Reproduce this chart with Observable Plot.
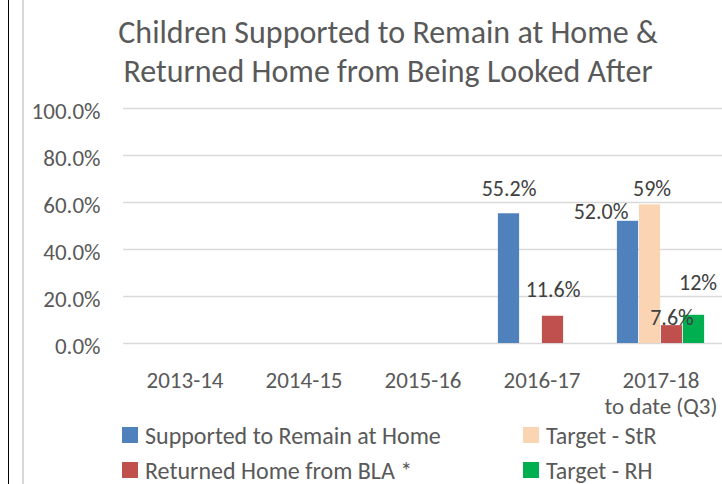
<!DOCTYPE html>
<html>
<head>
<meta charset="utf-8">
<script src="https://cdn.jsdelivr.net/npm/d3@7"></script>
<script src="https://cdn.jsdelivr.net/npm/@observablehq/plot@0.6"></script>
<style>
  html, body { margin: 0; padding: 0; background: #fff; }
  #wrap { position: relative; width: 722px; height: 484px; overflow: hidden; background: #fff;
          font-family: Carlito, Lato, sans-serif; color: #595959; }
  .vline-black { position: absolute; left: 8px; top: 0; width: 1px; height: 484px; background: #000; }
  .vline-grey { position: absolute; left: 22px; top: 0; width: 2px; height: 484px; background: #d9d9d9; }
  #title { position: absolute; left: 24px; width: 728px; top: 13px; text-align: center;
           font-size: 32px; line-height: 39px; }
  #chart { position: absolute; left: 0; top: 0; }
  .leg { position: absolute; font-size: 24px; line-height: 24px; white-space: nowrap; }
  .sw { position: absolute; width: 16px; height: 16px; }
</style>
</head>
<body>
<div id="wrap">
  <div class="vline-black"></div>
  <div class="vline-grey"></div>
  <div id="chart"></div>
  <div id="title">Children Supported to Remain at Home &amp;<br>Returned Home from Being Looked After</div>
  <div id="legend"></div>
</div>
<script>
const categories = ["2013-14", "2014-15", "2015-16", "2016-17", "2017-18\nto date (Q3)"];
const seriesNames = ["Supported to Remain at Home", "Target - StR", "Returned Home from BLA *", "Target - RH"];
const supported = [null, null, null, 55.2, 52.0];
const targetStR = [null, null, null, null, 59];
const returned  = [null, null, null, 11.6, 7.6];
const targetRH  = [null, null, null, null, 12];
const yTicks = [0, 20, 40, 60, 80, 100];

const colors = ["#4F81BD", "#FBD4B4", "#C0504D", "#00B050"];
const seriesValues = [supported, targetStR, returned, targetRH];
const seriesFormats = [d => d.toFixed(1) + "%", d => d.toFixed(0) + "%", d => d.toFixed(1) + "%", d => d.toFixed(0) + "%"];

const rows = [];
seriesValues.forEach((vals, si) => vals.forEach((v, ci) => {
  if (v != null) rows.push({series: seriesNames[si], si, cat: categories[ci], value: v});
}));

const W = 722, ML = 123, MR = 0;
const bandW = (W - ML - MR) / categories.length;
const barW = 22;
const groupOff = (bandW - barW * 4) / 2;

const barMarks = seriesNames.map((s, i) => Plot.barY(rows.filter(r => r.si === i), {
  x: "cat", y: "value", fill: colors[i],
  insetLeft: groupOff + barW * i,
  insetRight: bandW - groupOff - barW * (i + 1)
}));

// per-label offsets (Excel placed labels manually)
function label(si, ci, dx, dy) {
  const r = rows.filter(d => d.si === si && d.cat === categories[ci]);
  const centre = -barW * 2 + barW / 2 + barW * si;
  return Plot.text(r, {x: "cat", y: "value", text: d => seriesFormats[si](d.value),
    dx: centre + dx, dy, fontSize: 22, fill: "#404040"});
}

const chart = Plot.plot({
  width: W, height: 430,
  marginLeft: ML, marginRight: MR, marginTop: 108, marginBottom: 87,
  x: {domain: categories, padding: 0, axis: null, label: null},
  y: {domain: [0, 100], axis: null, label: null},
  style: {fontFamily: "Carlito, Lato, sans-serif", color: "#595959", background: "transparent", overflow: "visible"},
  marks: [
    Plot.ruleY(yTicks, {stroke: "#d9d9d9", strokeWidth: 1.5}),
    Plot.axisY({ticks: yTicks, tickSize: 0, tickPadding: 23, tickFormat: d => d.toFixed(1) + "%", fontSize: 23, dy: 3, fill: "#595959", label: null}),
    Plot.axisX({tickSize: 0, tickPadding: 27, fontSize: 23, lineHeight: 1.1, fill: "#595959", label: null}),
    ...barMarks,
    label(0, 3, 0, -25),
    label(2, 3, 0, -26),
    label(0, 4, -27, -9),
    label(1, 4, 2, -16),
    label(2, 4, 0, -8),
    label(3, 4, 4, -32)
  ]
});
document.getElementById("chart").appendChild(chart);

const legendItems = [
  {name: seriesNames[0], color: colors[0], x: 122, y: 427},
  {name: seriesNames[1], color: colors[1], x: 523, y: 427},
  {name: seriesNames[2], color: colors[2], x: 122, y: 462},
  {name: seriesNames[3], color: colors[3], x: 523, y: 462}
];
const leg = document.getElementById("legend");
legendItems.forEach(it => {
  const sw = document.createElement("div");
  sw.className = "sw";
  sw.style.left = it.x + "px"; sw.style.top = it.y + "px"; sw.style.background = it.color;
  leg.appendChild(sw);
  const t = document.createElement("div");
  t.className = "leg";
  t.style.left = (it.x + 23) + "px"; t.style.top = (it.y - 3) + "px";
  t.textContent = it.name;
  leg.appendChild(t);
});
</script>
</body>
</html>
